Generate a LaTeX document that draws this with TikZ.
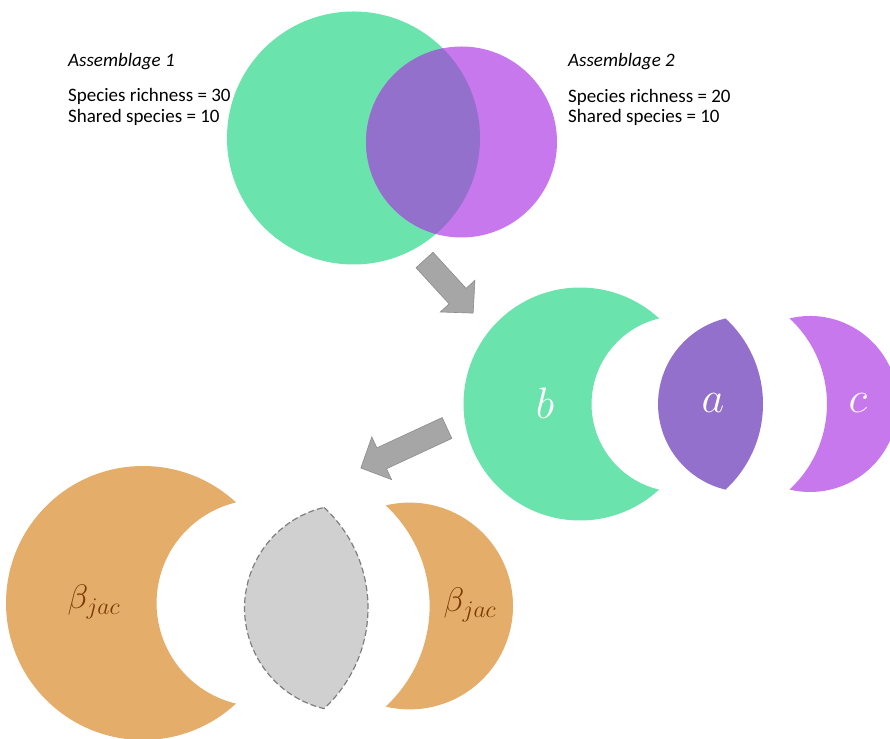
\RequirePackage{fix-cm}
\documentclass[tikz,border=0pt]{standalone}
\usepackage{fontspec}
\setmainfont{Carlito}
\begin{document}
\begin{tikzpicture}[x=1pt,y=1pt,
  infotext/.style={anchor=base west,inner sep=0pt,font=\fontsize{19}{22}\selectfont},
  setlabel/.style={text=white,inner sep=0pt,font=\fontsize{44}{44}\selectfont},
  betalabel/.style={text=betabrown,inner sep=0pt,font=\fontsize{34}{34}\selectfont},
  blockarrow/.style={fill=arrowgrey,draw=arrowedge,line width=0.6pt,line join=miter},
  lensline/.style={draw=lensedge,line width=1.2pt,dash pattern=on 6pt off 3pt}]
\definecolor{grn}{HTML}{6BE3AD}
\definecolor{prp}{HTML}{C878ED}
\definecolor{ovl}{HTML}{9270CC}
\definecolor{org}{HTML}{E5AD6A}
\definecolor{betabrown}{HTML}{7A3A05}
\definecolor{lensgrey}{HTML}{D0D0D0}
\definecolor{lensedge}{HTML}{7F7F7F}
\definecolor{arrowgrey}{HTML}{A6A6A6}
\definecolor{arrowedge}{HTML}{8C8C8C}
\useasboundingbox (0,0) rectangle (890,738);
\fill[white] (0,0) rectangle (890,738);

% ---------- top Venn ----------
\coordinate (G1) at (353.5,600);
\coordinate (P1) at (461.5,596);
\fill[grn] (G1) circle[radius=126.5];
\fill[prp] (P1) circle[radius=95.5];
\begin{scope}
  \clip (G1) circle[radius=126.5];
  \fill[ovl] (P1) circle[radius=95.5];
\end{scope}
\node[infotext] (t1) at (68,671) {\itshape Assemblage 1};
\node[infotext] (t2) at (68,636) {Species richness = 30};
\node[infotext] (t3) at (68,615) {Shared species = 10};
\node[infotext] (t4) at (568,671) {\itshape Assemblage 2};
\node[infotext] (t5) at (568,635) {Species richness = 20};
\node[infotext] (t6) at (568,615) {Shared species = 10};

% ---------- arrows ----------
\begin{scope}[shift={(424.5,478)},rotate=-47.5]
  \fill[blockarrow] (0,-11.5) -- (49,-11.5) -- (49,-23.5) -- (72,0) -- (49,23.5) -- (49,11.5) -- (0,11.5) -- cycle;
\end{scope}
\begin{scope}[shift={(447,310)},rotate=204.9]
  \fill[blockarrow] (0,-11.5) -- (72,-11.5) -- (72,-23.5) -- (95,0) -- (72,23.5) -- (72,11.5) -- (0,11.5) -- cycle;
\end{scope}

% ---------- middle ----------
% crescent b : green circle minus purple circle
\coordinate (Gb) at (580,334);
\fill[grn] ([shift={(47.3:116.5)}]Gb)
   arc[start angle=47.3,end angle=312.7,radius=116.5]
   arc[start angle=256.5,end angle=103.5,radius=88] -- cycle;
% lens a
\coordinate (Ga) at (646.5,334);
\fill[ovl] ([shift={(47.3:116.5)}]Ga)
   arc[start angle=47.3,end angle=-47.3,radius=116.5]
   arc[start angle=256.5,end angle=103.5,radius=88] -- cycle;
% crescent c : purple circle minus green circle
\coordinate (Pc) at (810,334);
\fill[prp] ([shift={(103.5:88)}]Pc)
   arc[start angle=103.5,end angle=-103.5,radius=88]
   arc[start angle=-47.3,end angle=47.3,radius=116.5] -- cycle;
\node[setlabel] (lb) at (545,335) {$b$};
\node[setlabel] (la) at (713,335) {$a$};
\node[setlabel] (lc) at (858,335) {$c$};

% ---------- bottom ----------
\coordinate (Gl) at (143,135);
\fill[org] ([shift={(47.25:137)}]Gl)
   arc[start angle=47.25,end angle=312.75,radius=137]
   arc[start angle=256.6,end angle=103.4,radius=103.4] -- cycle;
\coordinate (Pr) at (409.6,132);
\fill[org] ([shift={(103.4:103.4)}]Pr)
   arc[start angle=103.4,end angle=-103.4,radius=103.4]
   arc[start angle=-47.25,end angle=47.25,radius=137] -- cycle;
% grey lens
\coordinate (LG) at (231,130);
\path[fill=lensgrey,lensline] ([shift={(47.25:137)}]LG)
   arc[start angle=47.25,end angle=-47.25,radius=137]
   arc[start angle=256.6,end angle=103.4,radius=103.4] -- cycle;
\node[betalabel] (b1) at (94,136) {$\beta_{jac}$};
\node[betalabel] (b2) at (470,133) {$\beta_{jac}$};
\end{tikzpicture}
\end{document}
